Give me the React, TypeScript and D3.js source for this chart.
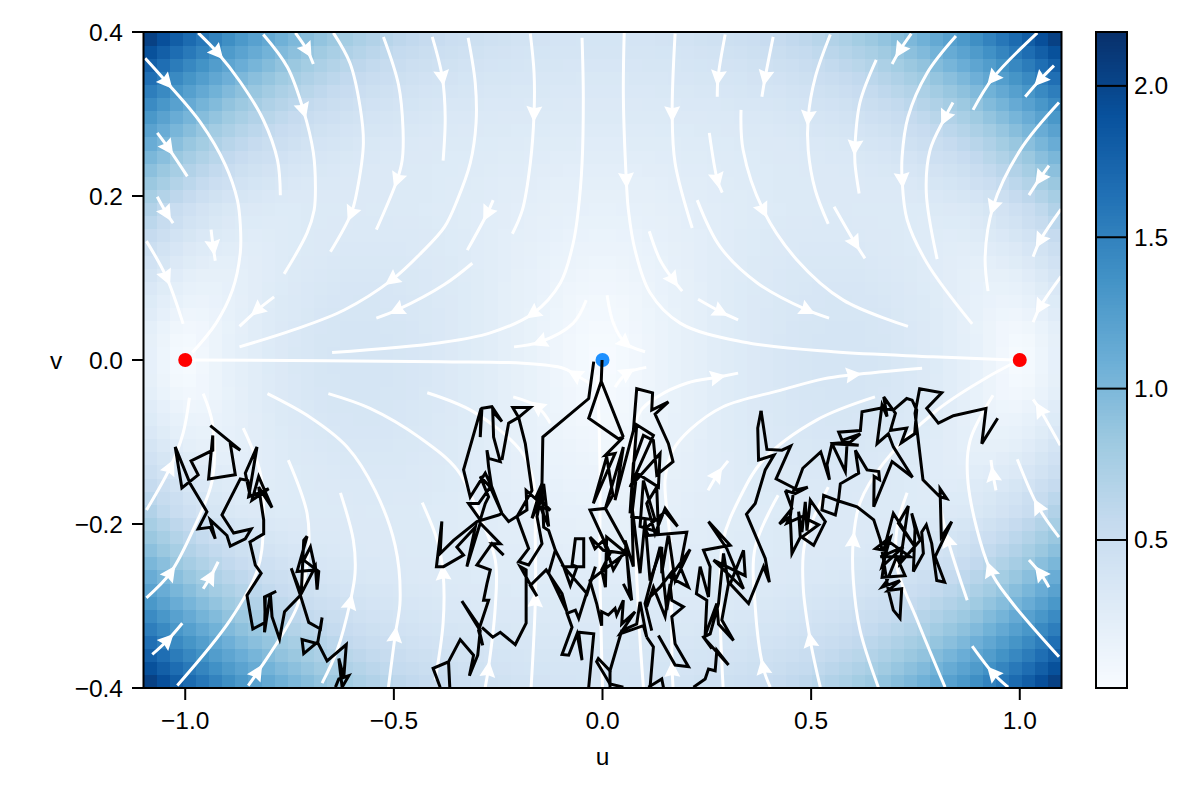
import React, { useMemo } from "react";
import * as d3 from "d3";

const xTicks = [-1, -0.5, 0, 0.5, 1];
const yTicks = [-0.4, -0.2, 0, 0.2, 0.4];
const barTicks = [0.5, 1, 1.5, 2];
const barDomain = [0.011, 2.178];
const blues = ["#f7fbff", "#deebf7", "#c6dbef", "#9ecae1", "#6baed6", "#4292c6", "#2171b5", "#08519c", "#08306b"];
const redPoints = [[-1, 0], [1, 0]];
const bluePoints = [[0, 0]];

// |field| for one quadrant: rows go from v=0 to v=0.4, columns from u=0 to u=1.1
const speedRows = [
[.02,.05,.08,.11,.14,.17,.20,.22,.25,.27,.29,.31,.33,.35,.36,.37,.38,.38,.38,.38,.38,.37,.35,.34,.31,.29,.25,.22,.18,.13,.08,.03,.05,.12,.19],
[.03,.05,.08,.11,.14,.17,.20,.22,.25,.27,.29,.31,.33,.35,.36,.37,.38,.38,.38,.38,.37,.37,.35,.33,.31,.28,.25,.22,.18,.13,.09,.05,.07,.13,.20],
[.04,.06,.09,.12,.14,.17,.20,.22,.25,.27,.29,.31,.33,.34,.36,.37,.37,.38,.38,.38,.37,.36,.35,.33,.31,.28,.25,.21,.17,.13,.09,.08,.10,.15,.22],
[.06,.07,.10,.12,.15,.17,.20,.22,.25,.27,.29,.31,.33,.34,.35,.36,.37,.37,.37,.37,.37,.36,.34,.32,.30,.28,.25,.22,.18,.14,.12,.11,.14,.19,.26],
[.07,.08,.10,.13,.15,.18,.20,.22,.25,.27,.29,.31,.32,.34,.35,.36,.36,.37,.37,.36,.36,.35,.33,.32,.30,.27,.24,.21,.18,.16,.14,.15,.18,.23,.29],
[.09,.10,.11,.13,.16,.18,.20,.22,.25,.27,.29,.30,.32,.33,.34,.35,.36,.36,.36,.36,.35,.34,.33,.31,.29,.27,.24,.22,.19,.17,.17,.18,.22,.27,.33],
[.10,.11,.13,.14,.16,.18,.20,.23,.25,.27,.28,.30,.31,.33,.34,.34,.35,.35,.35,.35,.34,.33,.32,.30,.28,.26,.24,.22,.20,.20,.20,.22,.26,.32,.38],
[.12,.13,.14,.15,.17,.19,.21,.23,.25,.26,.28,.30,.31,.32,.33,.34,.34,.34,.34,.34,.33,.32,.31,.30,.28,.26,.24,.23,.22,.22,.24,.27,.31,.37,.43],
[.14,.14,.15,.16,.18,.20,.21,.23,.25,.26,.28,.29,.30,.31,.32,.33,.33,.33,.33,.33,.32,.31,.30,.29,.28,.26,.25,.24,.25,.26,.28,.31,.36,.42,.49],
[.15,.16,.16,.18,.19,.21,.22,.23,.25,.26,.28,.29,.30,.31,.32,.32,.32,.32,.32,.32,.31,.31,.30,.29,.28,.27,.26,.27,.28,.30,.33,.37,.42,.48,.55],
[.17,.17,.18,.19,.20,.21,.23,.24,.25,.26,.27,.28,.29,.30,.31,.31,.32,.32,.32,.31,.31,.30,.30,.29,.28,.28,.29,.29,.31,.34,.38,.42,.48,.54,.62],
[.18,.19,.19,.20,.21,.22,.23,.24,.25,.26,.27,.28,.28,.29,.30,.30,.30,.30,.31,.30,.30,.30,.30,.29,.29,.30,.31,.32,.34,.37,.41,.46,.52,.59,.69],
[.20,.20,.21,.21,.22,.23,.24,.25,.26,.27,.27,.28,.29,.30,.30,.30,.31,.31,.31,.31,.31,.31,.31,.31,.32,.33,.35,.37,.40,.44,.49,.55,.61,.68,.76],
[.22,.22,.22,.22,.23,.24,.25,.25,.26,.27,.28,.28,.29,.30,.30,.30,.31,.31,.31,.31,.32,.32,.32,.33,.35,.37,.39,.42,.46,.50,.56,.62,.68,.76,.84],
[.23,.23,.23,.24,.24,.25,.26,.26,.27,.28,.28,.29,.29,.30,.30,.31,.31,.31,.32,.32,.33,.34,.35,.36,.38,.41,.44,.47,.52,.57,.63,.69,.76,.84,.92],
[.25,.25,.25,.25,.26,.26,.27,.27,.28,.28,.29,.29,.30,.31,.31,.32,.32,.33,.33,.34,.35,.36,.38,.40,.43,.46,.49,.53,.58,.64,.70,.77,.84,.93,1.01],
[.26,.26,.27,.27,.27,.27,.28,.28,.29,.29,.30,.30,.31,.31,.32,.33,.33,.34,.35,.37,.38,.40,.42,.45,.48,.51,.55,.60,.65,.71,.78,.85,.93,1.02,1.11],
[.28,.28,.28,.28,.29,.29,.29,.30,.30,.31,.31,.32,.32,.33,.34,.35,.36,.37,.38,.40,.42,.44,.47,.50,.53,.57,.62,.67,.73,.79,.86,.94,1.02,1.11,1.21],
[.30,.30,.30,.30,.30,.31,.31,.31,.32,.32,.33,.33,.34,.35,.36,.37,.38,.40,.42,.44,.46,.49,.52,.55,.59,.64,.69,.75,.81,.88,.95,1.03,1.11,1.21,1.31],
[.31,.31,.31,.32,.32,.32,.33,.33,.33,.34,.35,.35,.36,.37,.39,.40,.42,.43,.45,.48,.51,.54,.57,.62,.66,.71,.77,.83,.89,.97,1.04,1.13,1.22,1.32,1.42],
[.33,.33,.33,.33,.34,.34,.34,.35,.35,.36,.37,.38,.39,.40,.42,.43,.45,.47,.50,.53,.56,.60,.64,.68,.73,.79,.85,.91,.98,1.06,1.14,1.23,1.32,1.43,1.53],
[.34,.34,.35,.35,.35,.36,.36,.37,.37,.38,.39,.41,.42,.43,.45,.47,.50,.52,.55,.58,.62,.66,.71,.76,.81,.87,.93,1.00,1.08,1.16,1.25,1.34,1.43,1.54,1.65],
[.36,.36,.36,.37,.37,.37,.38,.39,.40,.41,.42,.44,.45,.47,.49,.52,.54,.57,.61,.64,.68,.73,.78,.84,.89,.96,1.03,1.10,1.18,1.26,1.36,1.45,1.55,1.66,1.78],
[.38,.38,.38,.38,.39,.39,.40,.41,.42,.44,.45,.47,.49,.51,.54,.56,.59,.63,.67,.71,.75,.80,.86,.92,.98,1.05,1.12,1.20,1.28,1.37,1.47,1.57,1.67,1.79,1.91],
[.39,.39,.40,.40,.41,.42,.42,.44,.45,.47,.48,.50,.53,.55,.58,.61,.65,.69,.73,.78,.83,.88,.94,1.00,1.07,1.14,1.22,1.30,1.39,1.49,1.59,1.69,1.80,1.92,2.04],
];

// streamlines in (u, v), listed along the flow; a = vertices that carry an arrow head
const streamlines: { a: number[]; p: number[][] }[] = [
{a:[1],p:[[-1.096,.368],[-1.045,.339],[-.964,.290],[-.904,.238],[-.875,.195],[-.868,.165],[-.868,.131],[-.887,.085],[-.926,.045],[-.983,.009]]},
{a:[1],p:[[-.969,.399],[-.923,.375],[-.868,.339],[-.813,.293],[-.779,.244],[-.772,.201]]},
{a:[2],p:[[-.813,.397],[-.755,.357],[-.717,.305],[-.693,.253],[-.688,.211],[-.691,.183],[-.708,.155],[-.763,.105]]},
{a:[1],p:[[-.736,.399],[-.708,.378],[-.693,.361]]},
{a:[5],p:[[-.645,.399],[-.605,.362],[-.581,.309],[-.573,.265],[-.588,.207],[-.602,.179],[-.652,.132]]},
{a:[4],p:[[-.525,.394],[-.489,.336],[-.478,.281],[-.480,.244],[-.492,.220],[-.542,.159]]},
{a:[1],p:[[-.408,.394],[-.384,.345],[-.377,.296],[-.382,.243]]},
{a:[7],p:[[-.322,.393],[-.305,.338],[-.303,.289],[-.317,.240],[-.348,.195],[-.379,.162],[-.434,.131],[-.504,.098],[-.619,.061],[-.739,.037],[-.870,.016]]},
{a:[1],p:[[-.787,.077],[-.827,.061],[-.870,.041]]},
{a:[1],p:[[-.262,.195],[-.276,.179],[-.324,.134]]},
{a:[2],p:[[-.312,.118],[-.379,.092],[-.492,.061],[-.542,.051]]},
{a:[2],p:[[-.173,.398],[-.164,.350],[-.164,.301],[-.173,.240],[-.192,.183],[-.216,.154]]},
{a:[6],p:[[-.049,.393],[-.046,.321],[-.049,.240],[-.058,.183],[-.070,.143],[-.101,.094],[-.166,.057],[-.269,.033],[-.389,.021],[-.648,.009]]},
{a:[2],p:[[.052,.399],[.050,.321],[.057,.220],[.062,.183],[.078,.134],[.114,.082],[.186,.045],[.337,.022],[.553,.010],[.792,.004],[.984,0]]},
{a:[1],p:[[.174,.398],[.167,.301],[.174,.240],[.215,.161]]},
{a:[1],p:[[.294,.397],[.277,.345],[.275,.321]]},
{a:[1],p:[[.409,.394],[.390,.345],[.382,.321]]},
{a:[2],p:[[.546,.397],[.510,.345],[.493,.296],[.493,.256],[.510,.207],[.541,.166]]},
{a:[2],p:[[.656,.366],[.617,.314],[.605,.260],[.605,.240],[.615,.203]]},
{a:[4],p:[[.847,.395],[.778,.350],[.732,.296],[.718,.248],[.718,.220],[.730,.171],[.778,.118],[.886,.044]]},
{a:[1],p:[[.840,.314],[.821,.296],[.785,.256],[.776,.204],[.802,.123]]},
{a:[1],p:[[.740,.398],[.713,.378],[.694,.361]]},
{a:[1],p:[[1.042,.399],[.936,.344],[.888,.305]]},
{a:[1],p:[[1.082,.359],[1.049,.342],[1.013,.321]]},
{a:[2],p:[[1.094,.314],[1.001,.256],[.936,.187],[.917,.126],[.924,.084]]},
{a:[1],p:[[1.070,.237],[1.049,.222],[1.022,.201]]},
{a:[1],p:[[1.099,.184],[1.049,.146],[1.032,.126]]},
{a:[1],p:[[1.099,.102],[1.049,.065],[1.032,.046]]},
{a:[2],p:[[.332,.305],[.337,.256],[.385,.183],[.466,.122],[.577,.073],[.732,.041]]},
{a:[3],p:[[.227,.195],[.282,.138],[.371,.094],[.490,.061],[.543,.051]]},
{a:[1],p:[[.256,.277],[.275,.220],[.287,.204]]},
{a:[1],p:[[.555,.187],[.605,.143],[.629,.124]]},
{a:[2],p:[[.112,.157],[.138,.122],[.169,.098],[.191,.084]]},
{a:[1],p:[[.229,.074],[.282,.059],[.325,.049]]},
{a:[2],p:[[.011,.079],[.026,.045],[.054,.021],[.102,.010]]},
{a:[2],p:[[-.039,.073],[-.070,.045],[-.149,.022],[-.212,.016]]},
{a:[1],p:[[-.029,-.029],[-.065,-.018],[-.094,-.010],[-.190,-.004],[-.389,-.002],[-.983,0]]},
{a:[1],p:[[.030,-.033],[.059,-.016],[.105,-.009]]},
{a:[7],p:[[.098,-.399],[.090,-.342],[.078,-.220],[.071,-.110],[.090,-.063],[.131,-.045],[.203,-.028],[.275,-.021],[.325,-.016]]},
{a:[1,9],p:[[.169,-.399],[.167,-.378],[.162,-.220],[.150,-.146],[.169,-.110],[.210,-.085],[.289,-.057],[.426,-.037],[.529,-.023],[.600,-.018],[.766,-.010]]},
{a:[1],p:[[.253,-.159],[.275,-.140],[.301,-.123]]},
{a:[3],p:[[.661,-.399],[.617,-.329],[.601,-.268],[.601,-.220],[.617,-.174],[.673,-.126],[.802,-.061],[.912,-.024],[.984,-.004]]},
{a:[],p:[[.289,-.399],[.282,-.301],[.289,-.220],[.330,-.167],[.385,-.122],[.514,-.073],[.653,-.045]]},
{a:[1],p:[[.402,-.399],[.385,-.375],[.366,-.301],[.366,-.228],[.421,-.165]]},
{a:[1],p:[[.522,-.399],[.498,-.342],[.481,-.277],[.485,-.223],[.541,-.155]]},
{a:[],p:[[.821,-.399],[.754,-.317],[.706,-.253],[.706,-.204],[.730,-.162]]},
{a:[1],p:[[.874,-.293],[.828,-.220],[.809,-.177]]},
{a:[2],p:[[1.094,-.362],[.977,-.293],[.929,-.256],[.876,-.150],[.881,-.098],[.936,-.043]]},
{a:[1],p:[[.943,-.159],[.936,-.140],[.931,-.122]]},
{a:[1],p:[[1.097,-.104],[1.049,-.061],[1.032,-.048]]},
{a:[1],p:[[1.094,-.216],[1.044,-.179],[.994,-.121]]},
{a:[1],p:[[1.070,-.277],[1.049,-.260],[1.022,-.244]]},
{a:[1],p:[[.972,-.399],[.936,-.382],[.886,-.349]]},
{a:[1],p:[[-1.093,-.183],[-1.036,-.131],[-1.005,-.089],[-.990,-.046]]},
{a:[1],p:[[-1.093,-.290],[-1.036,-.260],[-.981,-.207],[-.935,-.146],[-.935,-.077],[-.957,-.041]]},
{a:[],p:[[-1.019,-.397],[-.892,-.317],[-.827,-.256],[-.813,-.207],[-.820,-.138],[-.861,-.083]]},
{a:[1],p:[[-.849,-.397],[-.827,-.381],[-.732,-.301],[-.705,-.235],[-.708,-.187],[-.753,-.122]]},
{a:[2],p:[[-.672,-.394],[-.636,-.354],[-.605,-.296],[-.593,-.260],[-.597,-.220],[-.628,-.162]]},
{a:[1],p:[[-.513,-.399],[-.497,-.336],[-.485,-.293],[-.497,-.226],[-.545,-.159],[-.612,-.106],[-.700,-.070],[-.803,-.041]]},
{a:[2],p:[[-.401,-.390],[-.382,-.321],[-.382,-.260],[-.396,-.220],[-.432,-.174]]},
{a:[1],p:[[-.281,-.399],[-.274,-.378],[-.257,-.301],[-.257,-.244],[-.300,-.183],[-.348,-.134],[-.437,-.095],[-.557,-.059],[-.657,-.041]]},
{a:[1],p:[[-.171,-.399],[-.161,-.293],[-.161,-.220],[-.166,-.146],[-.197,-.110],[-.310,-.063],[-.420,-.040]]},
{a:[1],p:[[-.125,-.077],[-.156,-.057],[-.214,-.045]]},
{a:[],p:[[0,-.399],[-.006,-.260],[-.006,-.134],[-.010,-.049],[-.013,-.018]]},
{a:[1],p:[[-1.067,.277],[-1.041,.259],[-.995,.224]]},
{a:[1],p:[[-1.067,.199],[-1.045,.179],[-1.029,.167]]},
{a:[1],p:[[-.938,.159],[-.933,.138],[-.928,.121]]},
{a:[1],p:[[-1.093,.145],[-1.045,.101],[-1.005,.044]]},
{a:[1],p:[[-1.079,-.359],[-1.043,-.342],[-1.007,-.321]]},
{a:[1],p:[[-.957,-.279],[-.940,-.265],[-.921,-.246]]},
];

// stochastic trajectories in (u, v)
const pathLeft = [[-.940,-.080],[-.868,-.110],[-.892,-.102],[-.880,-.140],[-.944,-.145],[-.934,-.092],[-.934,-.110],[-.986,-.123],[-.969,-.140],[-1.008,-.156],[-1.024,-.106],[-.988,-.151],[-.948,-.185],[-.969,-.206],[-.940,-.204],[-.928,-.218],[-.940,-.195],[-.900,-.214],[-.892,-.227],[-.856,-.218],[-.842,-.206],[-.884,-.211],[-.912,-.189],[-.868,-.145],[-.850,-.147],[-.844,-.167],[-.856,-.138],[-.828,-.106],[-.848,-.167],[-.800,-.157],[-.840,-.171],[-.824,-.142],[-.792,-.180],[-.824,-.155],[-.812,-.195],[-.812,-.212],[-.845,-.222],[-.832,-.250],[-.818,-.260],[-.852,-.287],[-.838,-.328],[-.808,-.320],[-.810,-.289],[-.782,-.282],[-.808,-.289],[-.810,-.332],[-.796,-.285],[-.792,-.313],[-.774,-.340],[-.762,-.307],[-.724,-.287],[-.746,-.254],[-.722,-.285],[-.716,-.220],[-.708,-.215],[-.732,-.258],[-.688,-.256],[-.700,-.228],[-.716,-.244],[-.680,-.258],[-.684,-.280],[-.688,-.252],[-.724,-.287],[-.704,-.320],[-.676,-.328],[-.672,-.314],[-.683,-.346],[-.720,-.341],[-.716,-.358],[-.683,-.344],[-.660,-.367],[-.614,-.347],[-.620,-.387],[-.632,-.364],[-.624,-.399],[-.608,-.385],[-.632,-.389],[-.640,-.399]];
const pathCentreLeft = [[-.389,-.399],[-.406,-.376],[-.369,-.368],[-.366,-.399],[-.369,-.368],[-.341,-.341],[-.309,-.360],[-.319,-.385],[-.299,-.360],[-.293,-.330],[-.337,-.294],[-.299,-.322],[-.287,-.348],[-.297,-.330],[-.273,-.293],[-.285,-.293],[-.277,-.273],[-.269,-.256],[-.301,-.250],[-.265,-.224],[-.237,-.238],[-.265,-.224],[-.245,-.224],[-.293,-.199],[-.325,-.252],[-.305,-.204],[-.349,-.228],[-.333,-.238],[-.381,-.252],[-.398,-.252],[-.385,-.197],[-.389,-.236],[-.357,-.220],[-.301,-.197],[-.249,-.189],[-.241,-.187],[-.269,-.155],[-.297,-.175],[-.321,-.175],[-.293,-.195],[-.281,-.175],[-.273,-.167],[-.293,-.142],[-.265,-.157],[-.273,-.130],[-.277,-.110],[-.273,-.120],[-.245,-.124],[-.261,-.094],[-.263,-.063],[-.241,-.075],[-.265,-.057],[-.289,-.059],[-.293,-.094],[-.291,-.059],[-.333,-.134],[-.317,-.167],[-.281,-.138],[-.265,-.155],[-.241,-.187],[-.225,-.197],[-.181,-.183],[-.183,-.159],[-.161,-.169],[-.145,-.151],[-.169,-.193],[-.149,-.171],[-.125,-.183],[-.149,-.179],[-.129,-.203],[-.141,-.151],[-.157,-.191],[-.145,-.224],[-.177,-.250],[-.201,-.246],[-.177,-.230],[-.205,-.191],[-.169,-.159],[-.185,-.102],[-.201,-.070],[-.173,-.058],[-.215,-.058],[-.201,-.070],[-.225,-.077],[-.241,-.122]];
const pathFromCentre = [[-.021,-.002],[-.033,-.047],[-.143,-.094],[-.145,-.151],[-.141,-.204],[-.129,-.208],[-.113,-.232],[-.129,-.260],[-.085,-.307],[-.097,-.285],[-.135,-.256],[-.173,-.275],[-.157,-.288],[-.197,-.252],[-.183,-.256],[-.183,-.321],[-.209,-.347],[-.245,-.332],[-.263,-.338],[-.289,-.326]];
const pathLowerCentre = [[-.113,-.232],[-.093,-.252],[-.077,-.275],[-.061,-.252],[-.073,-.250],[-.065,-.218],[-.045,-.218],[-.045,-.252],[-.093,-.252],[-.037,-.285],[-.017,-.252],[-.041,-.289],[-.057,-.315],[-.065,-.305],[-.085,-.309],[-.073,-.326],[-.097,-.359],[-.081,-.360],[-.061,-.334],[-.049,-.366],[-.057,-.332],[-.021,-.334],[-.033,-.399]];
const pathCentre = [[-.001,0],[-.003,-.026],[.050,-.094],[-.003,-.026],[-.033,-.071],[.038,-.096],[.050,-.094],[.007,-.116],[.030,-.114],[-.022,-.175],[.010,-.118],[.025,-.165],[.007,-.181],[.050,-.106],[.030,-.171],[.074,-.086],[.082,-.035],[.120,-.040],[.118,-.061],[.158,-.051],[.126,-.066],[.158,-.102],[.169,-.124],[.130,-.140],[.122,-.098],[.098,-.092],[.074,-.126],[.066,-.187],[.082,-.079],[.122,-.092],[.066,-.155],[.138,-.114],[.134,-.155],[.082,-.138],[.070,-.191],[.126,-.195],[.098,-.147],[.090,-.203],[.134,-.210],[.130,-.155],[.106,-.175],[.126,-.212],[.150,-.181],[.180,-.203],[.150,-.185],[.102,-.206],[.110,-.214],[.202,-.210],[.186,-.252],[.206,-.277],[.162,-.265],[.210,-.231],[.174,-.269],[.158,-.212],[.142,-.260],[.142,-.228],[.114,-.269],[.102,-.195],[.090,-.260],[.070,-.175],[.074,-.252],[.054,-.220],[.070,-.293],[.050,-.273],[.066,-.289],[.058,-.236],[.010,-.216],[.007,-.277],[-.002,-.256],[.018,-.236],[-.030,-.183],[.007,-.181],[.058,-.228],[.026,-.256],[.002,-.220],[-.018,-.230],[-.030,-.216],[.002,-.232],[.054,-.236],[-.030,-.269],[-.014,-.297],[-.002,-.324],[-.002,-.307],[.014,-.311],[.030,-.303],[.034,-.311],[.050,-.293],[.046,-.322],[.078,-.307],[.042,-.334],[.098,-.324],[.106,-.338],[.090,-.295],[.082,-.322],[.046,-.330],[.018,-.379],[-.010,-.364],[-.014,-.368],[.018,-.395],[.050,-.399]];
const pathCentreStub = [[.018,-.379],[.018,-.399]];
const pathBottomStub = [[.110,-.399],[.142,-.389],[.146,-.399]];
const pathBottomRise = [[.114,-.399],[.122,-.350],[.106,-.338]];
const pathCentreRight = [[.134,-.336],[.174,-.372],[.206,-.374],[.174,-.346],[.166,-.313],[.194,-.301],[.166,-.293],[.162,-.273],[.150,-.313],[.122,-.277],[.106,-.301],[.114,-.289],[.138,-.277],[.170,-.256],[.154,-.305],[.138,-.228],[.102,-.297],[.118,-.330]];
const pathMiddleRight = [[.380,-.062],[.372,-.083],[.374,-.122],[.411,-.116],[.390,-.134],[.366,-.175],[.345,-.188],[.390,-.242],[.400,-.271],[.386,-.252],[.350,-.297],[.306,-.273],[.338,-.232],[.342,-.263],[.266,-.244],[.338,-.279],[.298,-.230],[.254,-.197],[.306,-.226],[.242,-.232],[.258,-.252],[.254,-.289],[.234,-.252],[.225,-.285],[.250,-.293],[.246,-.336],[.274,-.297],[.278,-.322],[.314,-.342],[.286,-.317],[.302,-.273],[.290,-.236],[.278,-.297],[.258,-.334],[.242,-.338],[.262,-.352],[.242,-.338],[.302,-.372],[.274,-.354],[.270,-.379],[.254,-.377],[.246,-.389],[.218,-.399]];
const pathRight = [[.947,-.071],[.909,-.102],[.919,-.059],[.841,-.068],[.805,-.077],[.777,-.059],[.813,-.040],[.760,-.035],[.749,-.065],[.768,-.146],[.809,-.167],[.825,-.169],[.809,-.157],[.812,-.216],[.837,-.197],[.797,-.240],[.820,-.271],[.801,-.269],[.789,-.224],[.776,-.201],[.765,-.210],[.769,-.236],[.745,-.258],[.749,-.206],[.741,-.187],[.761,-.220],[.713,-.248],[.733,-.178],[.709,-.199],[.749,-.228],[.697,-.187],[.674,-.232],[.654,-.230],[.690,-.216],[.670,-.252],[.721,-.228],[.666,-.240],[.737,-.240],[.682,-.220],[.670,-.265],[.725,-.263],[.705,-.240],[.682,-.269],[.670,-.277],[.713,-.269],[.685,-.281],[.717,-.279],[.713,-.315],[.697,-.305],[.685,-.281],[.666,-.220],[.650,-.195],[.610,-.179],[.566,-.172],[.530,-.165],[.526,-.183],[.558,-.189],[.566,-.169],[.570,-.151],[.614,-.138],[.606,-.110],[.634,-.134],[.662,-.136],[.664,-.146],[.651,-.142],[.650,-.179],[.694,-.124],[.743,-.143],[.697,-.106],[.685,-.090],[.658,-.102],[.670,-.055],[.682,-.069],[.674,-.045],[.702,-.065],[.690,-.086],[.729,-.083],[.716,-.101],[.748,-.090],[.753,-.061],[.742,-.049],[.729,-.047],[.697,-.061],[.665,-.059],[.622,-.063],[.618,-.086],[.566,-.088],[.574,-.098],[.618,-.090],[.594,-.100],[.550,-.102],[.582,-.136],[.586,-.102],[.614,-.104],[.550,-.102],[.538,-.128],[.544,-.146],[.523,-.112],[.480,-.132],[.462,-.157],[.416,-.145],[.451,-.105],[.430,-.110],[.394,-.109],[.380,-.062]];
const pathRightLoop = [[.438,-.159],[.454,-.181],[.424,-.200],[.450,-.191],[.454,-.236],[.474,-.216],[.470,-.185],[.478,-.210],[.486,-.173],[.490,-.208],[.498,-.171],[.534,-.197],[.506,-.226],[.478,-.216],[.518,-.201],[.478,-.191],[.442,-.199],[.450,-.191],[.458,-.159],[.492,-.155],[.462,-.163],[.438,-.159]];
const trajectories = [pathLeft, pathCentreLeft, pathFromCentre, pathLowerCentre, pathCentre, pathCentreStub, pathBottomStub, pathBottomRise, pathCentreRight, pathMiddleRight, pathRight, pathRightLoop];

const W = 1200, H = 800;
const font = "'Liberation Sans', Arial, sans-serif";

export default function App() {
  const x = d3.scaleLinear().domain([-1.1, 1.1]).range([143.5, 1061.5]);
  const y = d3.scaleLinear().domain([-0.4, 0.4]).range([688, 32]);
  const barY = d3.scaleLinear().domain(barDomain).range([688, 32]);
  const color = d3.scaleLinear<string>()
    .domain(blues.map((_, i) => barDomain[0] + (i / (blues.length - 1)) * (barDomain[1] - barDomain[0])))
    .range(blues);

  const cells = useMemo(() => {
    const out: { u0: number; u1: number; v0: number; v1: number; s: number }[] = [];
    const nc = speedRows[0].length, nr = speedRows.length;
    const du = 1.1 / nc, dv = 0.4 / nr;
    for (let r = -nr; r < nr; r++) {
      const row = speedRows[r < 0 ? -r - 1 : r];
      for (let c = -nc; c < nc; c++) {
        out.push({ u0: c * du, u1: (c + 1) * du, v0: r * dv, v1: (r + 1) * dv, s: row[c < 0 ? -c - 1 : c] });
      }
    }
    return out;
  }, []);

  const curve = d3.line<number[]>().x((d) => x(d[0])).y((d) => y(d[1])).curve(d3.curveCatmullRom.alpha(0.5));
  const straight = d3.line<number[]>().x((d) => x(d[0])).y((d) => y(d[1]));
  const barSteps = d3.range(0, 200).map((i) => barDomain[0] + ((i + 0.5) / 200) * (barDomain[1] - barDomain[0]));
  const textStyle = { fontFamily: font, fontSize: 24.5, fill: "#000" } as const;

  return (
    <svg width={W} height={H} viewBox={`0 0 ${W} ${H}`} style={{ position: "absolute", left: 0, top: 0, background: "#fff" }}>
      <defs>
        <clipPath id="plot"><rect x={143.5} y={32} width={918} height={656} /></clipPath>
      </defs>
      <g clipPath="url(#plot)">
        <g shapeRendering="crispEdges">
          {cells.map((c, i) => (
            <rect key={i} x={x(c.u0)} y={y(c.v1)} width={x(c.u1) - x(c.u0) + 0.5} height={y(c.v0) - y(c.v1) + 0.5} fill={color(c.s)} />
          ))}
        </g>
        {streamlines.map((l, i) => (
          <path key={i} d={curve(l.p) ?? ""} fill="none" stroke="#fff" strokeWidth={3} />
        ))}
        {streamlines.flatMap((l, i) =>
          l.a.map((k) => {
            const a = l.p[k - 1], b = l.p[k + 1], m = l.p[k];
            const ang = (Math.atan2(y(b[1]) - y(a[1]), x(b[0]) - x(a[0])) * 180) / Math.PI;
            return <path key={`${i}-${k}`} transform={`translate(${x(m[0])},${y(m[1])}) rotate(${ang})`} d="M9,0 L-7,-8 L-5,0 L-7,8 Z" fill="#fff" />;
          })
        )}
        {redPoints.map((p, i) => <circle key={i} cx={x(p[0])} cy={y(p[1])} r={7} fill="#ff0000" />)}
        {bluePoints.map((p, i) => <circle key={i} cx={x(p[0])} cy={y(p[1])} r={7} fill="#1e90ff" />)}
        {trajectories.map((t, i) => (
          <path key={i} d={straight(t) ?? ""} fill="none" stroke="#000" strokeWidth={3} strokeLinejoin="miter" strokeMiterlimit={4} />
        ))}
      </g>
      <rect x={143.5} y={32} width={918} height={656} fill="none" stroke="#000" strokeWidth={2} />
      {xTicks.map((t) => (
        <g key={t}>
          <line x1={x(t)} x2={x(t)} y1={688} y2={700} stroke="#000" strokeWidth={2} />
          <text x={x(t)} y={729} textAnchor="middle" style={textStyle}>{d3.format(".1f")(t).replace("-", "\u2212")}</text>
        </g>
      ))}
      {yTicks.map((t) => (
        <g key={t}>
          <line x1={132} x2={143.5} y1={y(t)} y2={y(t)} stroke="#000" strokeWidth={2} />
          <text x={123} y={y(t) + 8.5} textAnchor="end" style={textStyle}>{d3.format(".1f")(t).replace("-", "\u2212")}</text>
        </g>
      ))}
      <text x={602.5} y={765} textAnchor="middle" style={textStyle}>u</text>
      <text x={56} y={369} textAnchor="middle" style={textStyle}>v</text>
      <g shapeRendering="crispEdges">
        {barSteps.map((s, i) => (
          <rect key={i} x={1096} y={barY(s) - 656 / 400} width={31} height={656 / 200 + 0.5} fill={color(s)} />
        ))}
      </g>
      <rect x={1096} y={32} width={31} height={656} fill="none" stroke="#000" strokeWidth={2} />
      {barTicks.map((t) => (
        <g key={t}>
          <line x1={1096} x2={1127} y1={barY(t)} y2={barY(t)} stroke="#000" strokeWidth={2} />
          <text x={1134} y={barY(t) + 8.5} style={textStyle}>{d3.format(".1f")(t)}</text>
        </g>
      ))}
    </svg>
  );
}
